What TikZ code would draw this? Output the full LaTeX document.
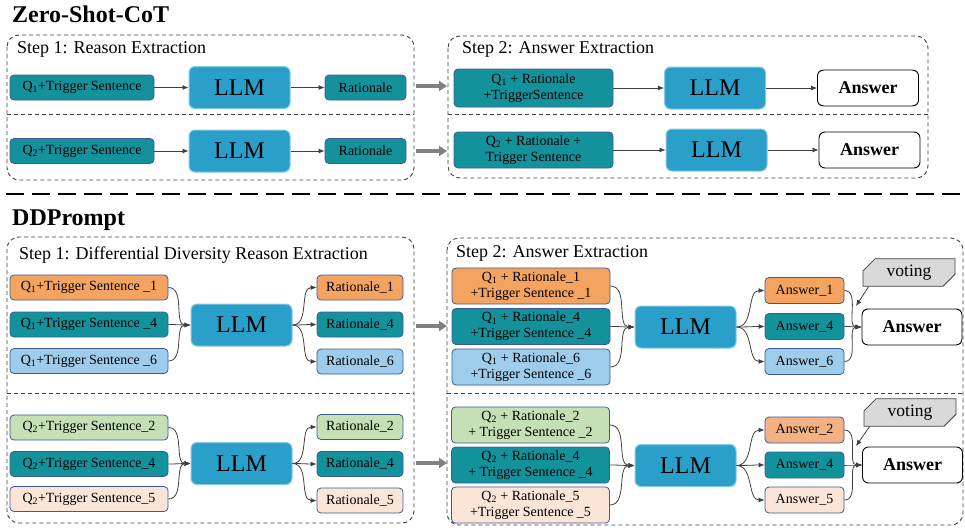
\documentclass[tikz,border=0pt]{standalone}
\usepackage{fontspec}
\setmainfont{Liberation Serif}
\usetikzlibrary{arrows.meta,shapes.misc}

\definecolor{tealbox}{HTML}{14929C}
\definecolor{llmblue}{HTML}{2A9FCA}
\definecolor{orangebox}{HTML}{F4A460}
\definecolor{orangelight}{HTML}{F4B183}
\definecolor{bluebox}{HTML}{9DCDEA}
\definecolor{greenbox}{HTML}{C5E0B4}
\definecolor{peachbox}{HTML}{FBE5D6}
\definecolor{boxline}{HTML}{3C5A9A}
\definecolor{arrowgray}{HTML}{404040}
\definecolor{passgray}{HTML}{808080}
\definecolor{votegray}{HTML}{D9D9D9}

\tikzset{
  box/.style={draw=boxline, line width=0.8pt, rounded corners=4pt, align=center,
    inner sep=1pt, font=\fontsize{14}{16}\selectfont},
  qbox/.style={box, minimum width=158pt, minimum height=25pt},
  rbox/.style={box, minimum width=86pt, minimum height=25pt},
  qrbox/.style={box, minimum width=158pt, minimum height=36pt},
  abox/.style={box, minimum width=79pt, minimum height=26pt},
  llm/.style={fill=llmblue, draw=llmblue!55!white, line width=1pt, rounded corners=6pt,
    minimum width=101pt, minimum height=42pt, font=\fontsize{24}{28}\selectfont},
  answer/.style={draw=black, fill=white, line width=0.9pt, rounded corners=6pt,
    minimum width=101pt, minimum height=36pt, font=\fontsize{18}{20}\selectfont\bfseries},
  vote/.style={chamfered rectangle, chamfered rectangle corners={north west,south east},
    chamfered rectangle xsep=6pt, chamfered rectangle ysep=6pt, fill=votegray, draw=arrowgray,
    line width=0.8pt, inner sep=0pt, minimum width=92pt, minimum height=21pt,
    font=\fontsize{17.5}{19}\selectfont},
  frame/.style={draw=arrowgray, dash pattern=on 4pt off 3pt, line width=0.9pt, rounded corners=12pt},
  conn/.style={draw=arrowgray, line width=0.8pt, -{Latex[length=6pt,width=5pt]}},
  pass/.style={draw=passgray, line width=3.5pt, -{Triangle[length=8pt,width=10pt]}},
  steplabel/.style={anchor=base west, inner sep=0pt, font=\fontsize{18}{20}\selectfont},
  title/.style={anchor=base west, inner sep=0pt, font=\fontsize{24}{28}\selectfont\bfseries},
}

\begin{document}
\begin{tikzpicture}[x=1pt, y=-1pt]
    \useasboundingbox (0,0) rectangle (965,527);

    % Zero-Shot-CoT
    \node[title] (zsTitle) at (12,23) {Zero-Shot-CoT};

    \draw[frame] (7,35) rectangle (414,180);
    \draw[frame] (7,114) -- (414,114);
    \node[steplabel] (zsStep1) at (17,53) {Step 1: Reason Extraction};

    \node[box, fill=tealbox, minimum width=144pt, minimum height=25pt] (zsQ1) at (82,87.5) {Q\textsubscript{1}+Trigger Sentence};
    \node[llm] (zsL1) at (239.5,87.5) {LLM};
    \node[box, fill=tealbox, minimum width=81pt, minimum height=25pt] (zsR1) at (365.5,87.5) {Rationale};

    \node[box, fill=tealbox, minimum width=144pt, minimum height=25pt] (zsQ2) at (82,151) {Q\textsubscript{2}+Trigger Sentence};
    \node[llm] (zsL2) at (239.5,151) {LLM};
    \node[box, fill=tealbox, minimum width=81pt, minimum height=25pt] (zsR2) at (365.5,151) {Rationale};

    \draw[conn] (zsQ1.east) -- (zsL1.west);
    \draw[conn] (zsL1.east) -- (zsR1.west);
    \draw[conn] (zsQ2.east) -- (zsL2.west);
    \draw[conn] (zsL2.east) -- (zsR2.west);

    \draw[frame] (448,36) rectangle (928,178);
    \draw[frame] (448,114) -- (928,114);
    \node[steplabel] (zsStep2) at (462,53) {Step 2: Answer Extraction};

    \node[box, fill=tealbox, minimum width=159pt, minimum height=38pt] (zsP1) at (533.5,88) {Q\textsubscript{1} + Rationale\\+TriggerSentence};
    \node[llm] (zsM1) at (715,88) {LLM};
    \node[answer] (zsA1) at (868,88) {Answer};

    \node[box, fill=tealbox, minimum width=159pt, minimum height=36pt] (zsP2) at (533.5,150) {Q\textsubscript{2} + Rationale +\\Trigger Sentence};
    \node[llm] (zsM2) at (716.5,150) {LLM};
    \node[answer] (zsA2) at (869.5,150) {Answer};

    \draw[conn] (zsP1.east) -- (zsM1.west);
    \draw[conn] (zsM1.east) -- (zsA1.west);
    \draw[conn] (zsP2.east) -- (zsM2.west);
    \draw[conn] (zsM2.east) -- (zsA2.west);

    \coordinate (zsOut1) at (416,86);
    \coordinate (zsIn1) at (447,86);
    \coordinate (zsOut2) at (416,151);
    \coordinate (zsIn2) at (447,151);
    \draw[pass] (zsOut1) -- (zsIn1);
    \draw[pass] (zsOut2) -- (zsIn2);

    % separator
    \draw[line width=2pt, dash pattern=on 18pt off 8pt] (6,194) -- (962,194);

    % DDPrompt
    \node[title] (ddTitle) at (12,225) {DDPrompt};

    \draw[frame] (7,237) rectangle (414,523);
    \draw[frame] (7,393) -- (414,393);
    \node[steplabel] (ddStep1) at (19,259) {Step 1: Differential Diversity Reason Extraction};

    \node[qbox, fill=orangebox] (ddQ1a) at (89,287.5) {Q\textsubscript{1}+Trigger Sentence \_1};
    \node[qbox, fill=tealbox] (ddQ1b) at (89,324.5) {Q\textsubscript{1}+Trigger Sentence \_4};
    \node[qbox, fill=bluebox] (ddQ1c) at (89,361) {Q\textsubscript{1}+Trigger Sentence \_6};
    \node[llm] (ddL1) at (241.5,325) {LLM};
    \node[rbox, fill=orangebox] (ddR1a) at (360,287.5) {Rationale\_1};
    \node[rbox, fill=tealbox] (ddR1b) at (360,324.5) {Rationale\_4};
    \node[rbox, fill=bluebox] (ddR1c) at (360,361.5) {Rationale\_6};

    \node[qbox, fill=greenbox] (ddQ2a) at (89,427.5) {Q\textsubscript{2}+Trigger Sentence\_2};
    \node[qbox, fill=tealbox] (ddQ2b) at (89,464) {Q\textsubscript{2}+Trigger Sentence\_4};
    \node[qbox, fill=peachbox] (ddQ2c) at (89,499) {Q\textsubscript{2}+Trigger Sentence\_5};
    \node[llm] (ddL2) at (241.5,463.5) {LLM};
    \node[rbox, fill=greenbox] (ddR2a) at (360,427) {Rationale\_2};
    \node[rbox, fill=tealbox] (ddR2b) at (360,464) {Rationale\_4};
    \node[rbox, fill=peachbox] (ddR2c) at (360,500.5) {Rationale\_5};

    \foreach \row in {1,2} {
        \foreach \k in {a,b,c} {
            \draw[conn] (ddQ\row\k.east) to[out=0,in=180] (ddL\row.west);
            \draw[conn] (ddL\row.east) to[out=0,in=180] (ddR\row\k.west);
        }
    }

    \coordinate (ddOut1) at (416,326);
    \coordinate (ddIn1) at (447,326);
    \coordinate (ddOut2) at (416,463);
    \coordinate (ddIn2) at (447,463);
    \draw[pass] (ddOut1) -- (ddIn1);
    \draw[pass] (ddOut2) -- (ddIn2);

    \draw[frame] (447,238) rectangle (963,525);
    \draw[frame] (447,393) -- (963,393);
    \node[steplabel] (ddStep2) at (456,257) {Step 2: Answer Extraction};

    \node[qrbox, fill=orangebox] (ddP1a) at (531,286) {Q\textsubscript{1} + Rationale\_1\\+Trigger Sentence \_1};
    \node[qrbox, fill=tealbox] (ddP1b) at (531,326.5) {Q\textsubscript{1} + Rationale\_4\\+Trigger Sentence \_4};
    \node[qrbox, fill=bluebox] (ddP1c) at (531,367) {Q\textsubscript{1} + Rationale\_6\\+Trigger Sentence \_6};
    \node[llm] (ddM1) at (685.5,327) {LLM};
    \node[abox, fill=orangebox] (ddA1a) at (804.5,290.5) {Answer\_1};
    \node[abox, fill=tealbox] (ddA1b) at (804.5,326.5) {Answer\_4};
    \node[abox, fill=bluebox] (ddA1c) at (804.5,361.5) {Answer\_6};
    \node[answer, minimum width=100pt] (ddF1) at (912,327) {Answer};
    \node[vote] (ddV1) at (909,272.5) {voting};
    \coordinate (ddT1) at (856,306);

    \node[qrbox, fill=greenbox] (ddP2a) at (530.5,425) {Q\textsubscript{2} + Rationale\_2\\+ Trigger Sentence \_2};
    \node[qrbox, fill=tealbox] (ddP2b) at (530.5,465) {Q\textsubscript{2} + Rationale\_4\\+ Trigger Sentence \_4};
    \node[qrbox, fill=peachbox] (ddP2c) at (530.5,505) {Q\textsubscript{2} + Rationale\_5\\+Trigger Sentence \_5};
    \node[llm] (ddM2) at (685.5,465.5) {LLM};
    \node[abox, fill=orangelight] (ddA2a) at (804.5,430) {Answer\_2};
    \node[abox, fill=tealbox] (ddA2b) at (804.5,465) {Answer\_4};
    \node[abox, fill=peachbox] (ddA2c) at (804.5,500) {Answer\_5};
    \node[answer, minimum width=100pt] (ddF2) at (912.5,465) {Answer};
    \node[vote] (ddV2) at (910,412.5) {voting};
    \coordinate (ddT2) at (856,446);

    \foreach \row in {1,2} {
        \foreach \k in {a,b,c} {
            \draw[conn] (ddP\row\k.east) to[out=0,in=180] (ddM\row.west);
            \draw[conn] (ddM\row.east) to[out=0,in=180] (ddA\row\k.west);
            \draw[conn] (ddA\row\k.east) to[out=0,in=180] (ddF\row.west);
        }
        \draw[conn] ([xshift=6pt]ddV\row.south west) -- (ddT\row);
    }

\end{tikzpicture}
\end{document}
